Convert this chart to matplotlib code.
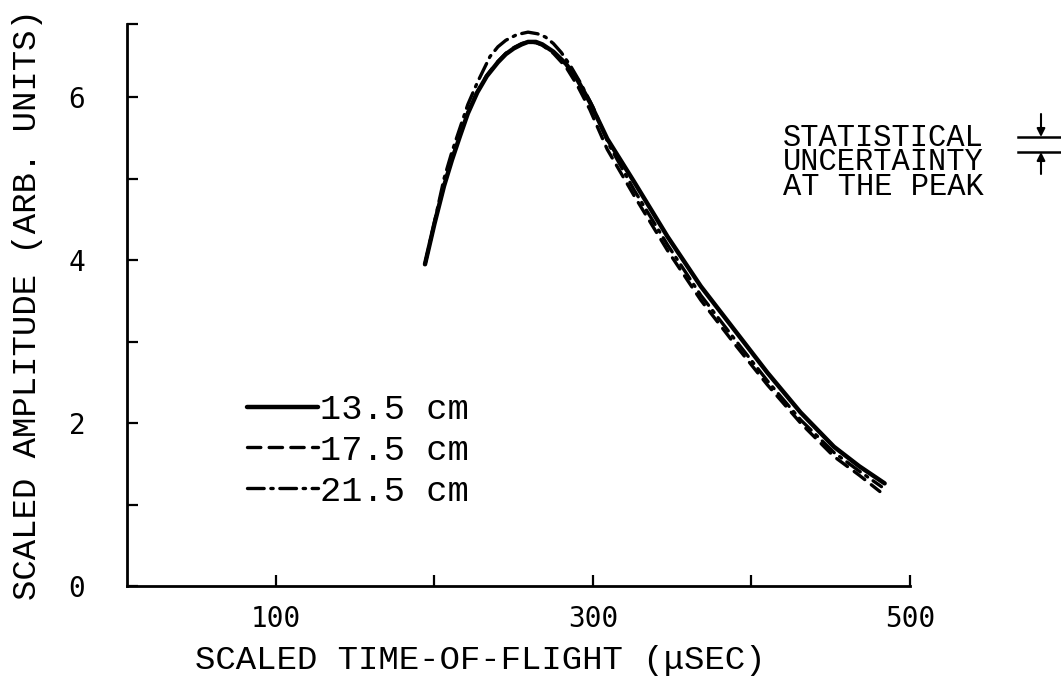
import matplotlib
matplotlib.use("Agg")
import matplotlib.pyplot as plt
from matplotlib.lines import Line2D

# time-of-flight (usec) and scaled amplitude
tof_135 = [194, 200, 206, 211, 216, 221, 227, 233, 240, 245, 250, 255, 259, 264,
           268, 275, 283, 290, 298, 309, 326, 347, 368, 389, 410, 431, 452, 468, 484]
amp_135 = [3.95, 4.45, 4.91, 5.23, 5.52, 5.80, 6.06, 6.26, 6.43, 6.53, 6.60, 6.65,
           6.68, 6.68, 6.65, 6.56, 6.41, 6.22, 5.94, 5.49, 4.96, 4.29, 3.68, 3.15,
           2.62, 2.13, 1.71, 1.47, 1.26]

tof_175 = [194, 200, 206, 211, 216, 221, 227, 233, 240, 245, 250, 255, 259, 264,
           268, 275, 283, 290, 298, 309, 326, 347, 368, 389, 410, 431, 452, 468, 481]
amp_175 = [3.95, 4.46, 4.92, 5.24, 5.53, 5.81, 6.07, 6.27, 6.44, 6.54, 6.61, 6.66,
           6.68, 6.67, 6.64, 6.54, 6.37, 6.15, 5.85, 5.36, 4.79, 4.12, 3.51, 2.98,
           2.47, 2.00, 1.59, 1.36, 1.16]

tof_215 = [194, 200, 206, 211, 216, 221, 227, 235, 240, 245, 252, 259, 265, 270,
           275, 280, 286, 292, 300, 310, 326, 347, 368, 389, 410, 431, 452, 468, 482]
amp_215 = [3.95, 4.47, 5.00, 5.33, 5.62, 5.91, 6.18, 6.50, 6.62, 6.70, 6.77, 6.80,
           6.78, 6.74, 6.66, 6.55, 6.38, 6.18, 5.88, 5.42, 4.86, 4.19, 3.57, 3.04,
           2.52, 2.04, 1.64, 1.41, 1.22]

labels = ["13.5 cm", "17.5 cm", "21.5 cm"]

x_ticks = [100, 200, 300, 400, 500]
x_ticklabels = ["100", "", "300", "", "500"]
y_ticks = [0, 1, 2, 3, 4, 5, 6, 6.9]
y_ticklabels = ["0", "", "2", "", "4", "", "6", ""]

W, H = 1061, 681


def fx(px):
    return px / W


def fy(py):
    return 1 - py / H


mono = "Liberation Mono"

fig = plt.figure(figsize=(W / 100, H / 100), dpi=100)
ax = fig.add_axes([fx(127), fy(586), fx(910) - fx(127), fy(24) - fy(586)])

ax.plot(tof_135, amp_135, color="black", lw=3.2, solid_capstyle="round",
        solid_joinstyle="round", label=labels[0])
ax.plot(tof_175, amp_175, color="black", lw=2.4, dashes=(4, 2.5),
        dash_capstyle="round", label=labels[1])
ax.plot(tof_215, amp_215, color="black", lw=2.4, dashes=(5, 2, 0.7, 2),
        dash_capstyle="round", label=labels[2])

ax.set_xlim(6, 500)
ax.set_ylim(0, 6.9)
ax.set_xticks(x_ticks)
ax.set_xticklabels(x_ticklabels)
ax.set_yticks(y_ticks)
ax.set_yticklabels(y_ticklabels)

for side in ["top", "right"]:
    ax.spines[side].set_visible(False)
for side in ["left", "bottom"]:
    ax.spines[side].set_linewidth(2.0)

ax.tick_params(direction="in", length=8, width=1.6, color="black")
ax.tick_params(axis="x", pad=14)
ax.tick_params(axis="y", pad=30)
for t in ax.get_xticklabels() + ax.get_yticklabels():
    t.set_fontfamily("DejaVu Sans Mono")
    t.set_fontsize(20)

fig.text(fx(480), fy(660), "SCALED TIME-OF-FLIGHT (\u03bcSEC)", ha="center",
         va="center", fontsize=24.5, family=mono)
fig.text(fx(28), fy(305), "SCALED AMPLITUDE (ARB. UNITS)", ha="center",
         va="center", rotation=90, fontsize=24.5, family=mono)

leg = ax.legend(loc="upper left", bbox_to_anchor=(fx(247), fy(393)),
                bbox_transform=fig.transFigure, frameon=False,
                prop={"family": mono, "size": 25.5}, handlelength=2.0,
                handletextpad=0.05, labelspacing=0.22, borderpad=0,
                borderaxespad=0)

fig.text(fx(783), fy(123), "STATISTICAL\nUNCERTAINTY\nAT THE PEAK",
         ha="left", va="top", fontsize=22, family=mono, linespacing=0.76)

# uncertainty marker at the right edge
for py in [137, 152]:
    fig.add_artist(Line2D([fx(1018), fx(1061)], [fy(py), fy(py)],
                          color="black", lw=1.8, transform=fig.transFigure))
ax.annotate("", xy=(fx(1041), fy(137)), xytext=(fx(1041), fy(114)),
            xycoords="figure fraction", textcoords="figure fraction",
            arrowprops=dict(arrowstyle="-|>", color="black", lw=1.5,
                            mutation_scale=12, shrinkA=0, shrinkB=0))
ax.annotate("", xy=(fx(1041), fy(152)), xytext=(fx(1041), fy(174)),
            xycoords="figure fraction", textcoords="figure fraction",
            arrowprops=dict(arrowstyle="-|>", color="black", lw=1.5,
                            mutation_scale=12, shrinkA=0, shrinkB=0))

fig.savefig("out.png", dpi=100, facecolor="white")
